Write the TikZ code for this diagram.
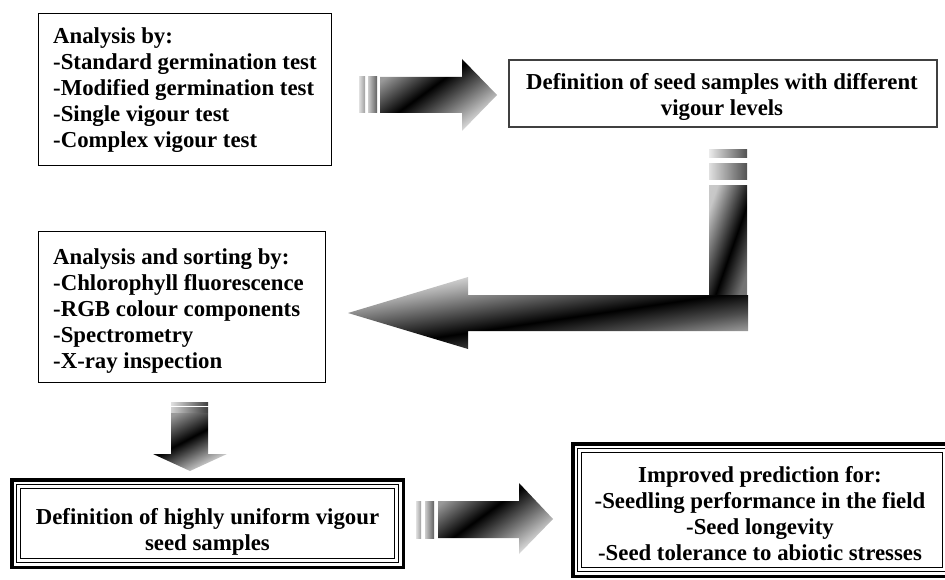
\documentclass[tikz,border=0pt]{standalone}
\usepackage{fontspec}
\setmainfont{Liberation Serif}
\pgfdeclarehorizontalshading{shStraight}{100bp}{color(0bp)=(black!35); color(25bp)=(black!40); color(44.5bp)=(black); color(75bp)=(black!10); color(100bp)=(black!5)}
\pgfdeclarehorizontalshading{shDown}{100bp}{color(0bp)=(black!35); color(25bp)=(black!40); color(47.3bp)=(black); color(75bp)=(black!10); color(100bp)=(black!5)}
\pgfdeclarehorizontalshading{shBentH}{100bp}{color(0bp)=(black!3); color(25bp)=(black!5); color(34.4bp)=(black!35); color(53.3bp)=(black); color(62.6bp)=(black!70); color(75bp)=(black!22); color(100bp)=(black!20)}
\pgfdeclarehorizontalshading{shBentV}{100bp}{color(0bp)=(black!18); color(25bp)=(black!22); color(55.3bp)=(black); color(75bp)=(black!55); color(100bp)=(black!50)}
\begin{document}
\begin{tikzpicture}[x=1pt,y=-1pt,
  plainbox/.style={draw=black, line width=1.4pt, inner sep=0pt, outer sep=0pt},
  tribox/.style={draw=black, line width=3.5pt, inner sep=0pt, outer sep=0pt},
  txt/.style={inner sep=0pt, font=\bfseries\fontsize{22.8}{26}\selectfont}]
\useasboundingbox (0,0) rectangle (945,580);
\clip (0,0) rectangle (945,580);

% ---- boxes ----
\node[plainbox, minimum width=292.6pt, minimum height=151.6pt] (b1) at (185,89.5) {};
\node[txt, anchor=north west, align=left] (t1) at (53,27.5)
  {Analysis by:\\-Standard germination test\\-Modified germination test\\-Single vigour test\\-Complex vigour test};

\node[plainbox, draw=black!75, line width=2pt, minimum width=428pt, minimum height=67pt] (b2) at (723,93.5) {};
\node[txt, anchor=north, align=center] (t2) at (722,73.4)
  {Definition of seed samples with different\\vigour levels};

\node[plainbox, minimum width=286.6pt, minimum height=150.6pt] (b3) at (182,307) {};
\node[txt, anchor=north west, align=left] (t3) at (53,248.5)
  {Analysis and sorting by:\\-Chlorophyll fluorescence\\-RGB colour components\\-Spectrometry\\-X-ray inspection};

\node[tribox, minimum width=391.5pt, minimum height=87.5pt] (b4) at (207.5,523.5) {};
\draw[line width=1.8pt] ([shift={(4.75,4.75)}]b4.north west) rectangle ([shift={(-4.75,-4.75)}]b4.south east);
\draw[line width=1.1pt] ([shift={(8.5,8.5)}]b4.north west) rectangle ([shift={(-8.5,-8.5)}]b4.south east);
\node[txt, anchor=north, align=center] (t4) at (207.5,508.4)
  {Definition of highly uniform vigour\\seed samples};

\node[tribox, minimum width=378.5pt, minimum height=132.5pt] (b5) at (762,510) {};
\draw[line width=1.8pt] ([shift={(4.75,4.75)}]b5.north west) rectangle ([shift={(-4.75,-4.75)}]b5.south east);
\draw[line width=1.1pt] ([shift={(8.5,8.5)}]b5.north west) rectangle ([shift={(-8.5,-8.5)}]b5.south east);
\node[txt, anchor=north, align=center] (t5) at (760,466.5)
  {Improved prediction for:\\-Seedling performance in the field\\-Seed longevity\\-Seed tolerance to abiotic stresses};

% ---- arrow 1 (right) ----
\shade[left color=black!12, right color=black!38] (359,77) rectangle (365,113);
\shade[left color=black!20, right color=black!62] (368,77) rectangle (377,113);
\shade[shading=shStraight, shading angle=-53.9]
  (380,77) -- (462,77) -- (462,59) -- (497,95) -- (462,131) -- (462,113) -- (380,113) -- cycle;

% ---- bent arrow ----
\shade[left color=black!8, right color=black!68] (709,150) rectangle (747,158);
\shade[left color=black!12, right color=black!68] (709,164) rectangle (747,180);
\shade[shading=shBentV, shading angle=-19.4] (709,186) rectangle (747,295.5);
\shade[shading=shBentH, shading angle=-81.5]
  (348,313) -- (468,277) -- (468,295) -- (748,295) -- (748,331) -- (468,331) -- (468,349) -- cycle;

% ---- arrow 3 (down) ----
\shade[left color=black!12, right color=black!75] (171,402) rectangle (208,405);
\shade[left color=black!18, right color=black!75] (171,407) rectangle (208,412);
\shade[shading=shDown, shading angle=-62.2]
  (171,413) -- (208,413) -- (208,454) -- (227,454) -- (190,471) -- (153,454) -- (171,454) -- cycle;

% ---- arrow 4 (right) ----
\shade[left color=black!12, right color=black!38] (416,501) rectangle (421,538);
\shade[left color=black!20, right color=black!62] (425,501) rectangle (434,538);
\shade[shading=shStraight, shading angle=-53.9]
  (438,501) -- (519,501) -- (519,483) -- (553,519) -- (519,554) -- (519,538) -- (438,538) -- cycle;
\end{tikzpicture}
\end{document}
